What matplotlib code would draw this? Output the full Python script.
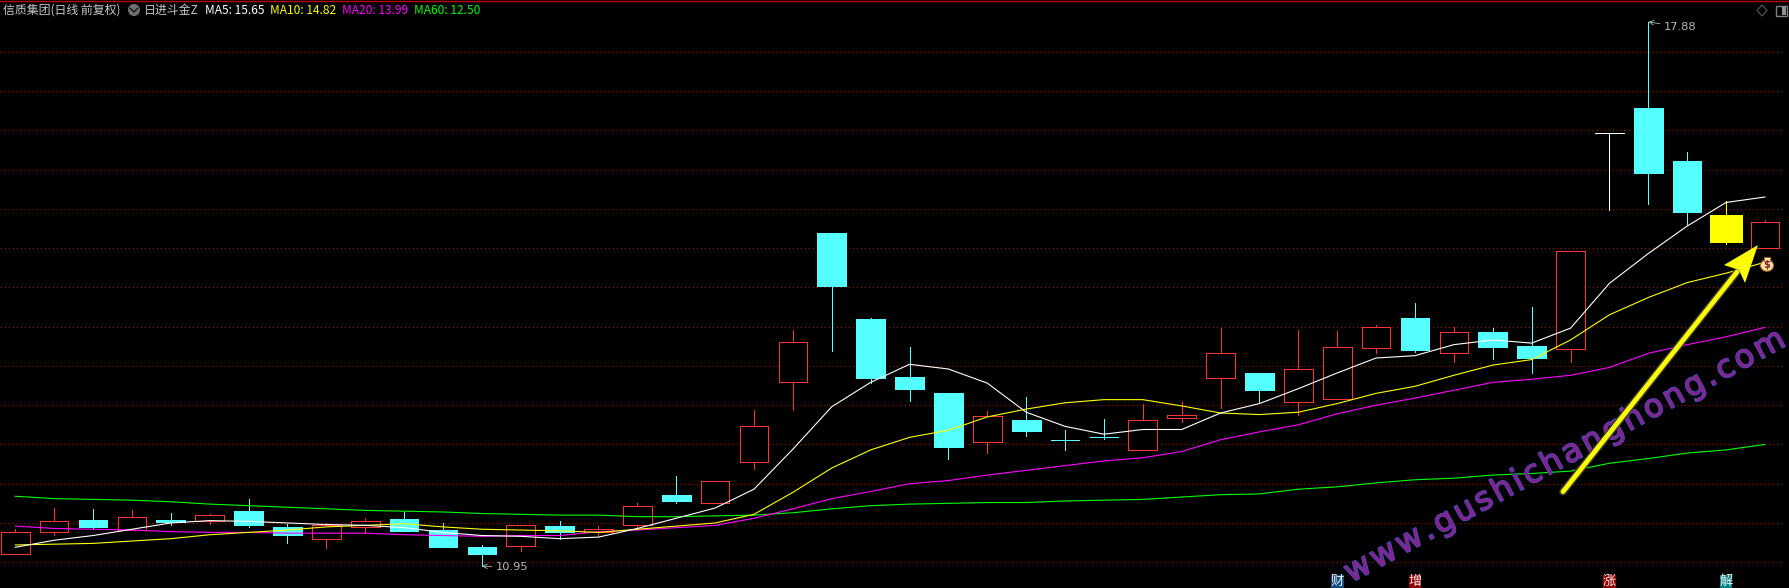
import matplotlib
matplotlib.use("Agg")
import matplotlib.pyplot as plt
import matplotlib.patheffects as pe
from matplotlib.font_manager import FontProperties
from matplotlib.patches import Polygon, Rectangle, Ellipse, Circle
from matplotlib.textpath import text_to_path
from matplotlib.transforms import Affine2D
import math

plt.rcParams["font.family"] = ["Noto Sans CJK SC", "DejaVu Sans"]

# =========================
# DATA
# =========================

opens = [11.10, 11.39, 11.54, 11.41, 11.54, 11.53, 11.65, 11.45, 11.29, 11.45,
         11.55, 11.41, 11.19, 11.21, 11.46, 11.39, 11.48, 11.86, 11.76, 12.27,
         13.30, 15.19, 14.10, 13.36, 13.16, 12.53, 12.81, 12.55, 12.60, 12.43,
         12.84, 13.34, 13.41, 13.04, 13.08, 13.73, 14.11, 13.67, 13.93, 13.75,
         13.72, 16.46, 16.78, 16.11, 15.42, 15.00]
highs = [11.42, 11.69, 11.68, 11.67, 11.63, 11.61, 11.81, 11.49, 11.50, 11.56,
         11.64, 11.50, 11.22, 11.47, 11.53, 11.46, 11.75, 12.10, 12.04, 12.94,
         13.96, 15.19, 14.11, 13.74, 13.16, 12.93, 13.10, 12.68, 12.82, 13.02,
         13.04, 13.98, 13.41, 13.96, 13.94, 14.02, 14.30, 14.00, 13.98, 14.25,
         14.96, 16.46, 17.88, 16.22, 15.60, 15.36]
lows = [11.10, 11.35, 11.42, 11.41, 11.47, 11.49, 11.45, 11.25, 11.18, 11.37,
        11.40, 11.19, 10.95, 11.14, 11.30, 11.33, 11.42, 11.76, 11.75, 12.19,
        12.94, 13.69, 13.28, 13.05, 12.31, 12.39, 12.61, 12.43, 12.57, 12.43,
        12.79, 12.96, 13.04, 12.87, 13.08, 13.66, 13.68, 13.55, 13.59, 13.41,
        13.55, 15.48, 15.56, 15.29, 15.05, 15.00]
closes = [11.39, 11.53, 11.45, 11.57, 11.51, 11.60, 11.47, 11.35, 11.47, 11.52,
          11.40, 11.19, 11.11, 11.47, 11.39, 11.42, 11.72, 11.78, 12.04, 12.74,
          13.80, 14.52, 13.35, 13.21, 12.47, 12.86, 12.67, 12.55, 12.60, 12.81,
          12.88, 13.66, 13.19, 13.46, 13.74, 14.00, 13.70, 13.93, 13.74, 13.60,
          14.96, 16.46, 15.96, 15.46, 15.08, 15.33]

ma5 = [11.19, 11.28, 11.34, 11.42, 11.50, 11.53, 11.52, 11.50, 11.48, 11.47,
       11.44, 11.38, 11.34, 11.33, 11.30, 11.32, 11.43, 11.56, 11.69, 11.93,
       12.44, 12.98, 13.29, 13.52, 13.46, 13.28, 12.91, 12.73, 12.63, 12.69,
       12.69, 12.90, 13.02, 13.21, 13.41, 13.60, 13.63, 13.77, 13.83, 13.79,
       13.98, 14.55, 14.93, 15.28, 15.58, 15.65]
ma10 = [11.22, 11.23, 11.24, 11.27, 11.30, 11.35, 11.38, 11.41, 11.45, 11.47,
        11.49, 11.45, 11.42, 11.41, 11.40, 11.38, 11.42, 11.46, 11.50, 11.61,
        11.89, 12.20, 12.43, 12.59, 12.68, 12.85, 12.95, 13.03, 13.07, 13.07,
        12.99, 12.90, 12.88, 12.91, 13.02, 13.15, 13.24, 13.38, 13.51, 13.58,
        13.83, 14.15, 14.37, 14.56, 14.68, 14.82]
ma20 = [11.46, 11.43, 11.42, 11.41, 11.39, 11.38, 11.38, 11.37, 11.37, 11.37,
        11.35, 11.34, 11.33, 11.34, 11.34, 11.39, 11.41, 11.44, 11.47, 11.56,
        11.68, 11.81, 11.90, 12.00, 12.04, 12.11, 12.17, 12.23, 12.29, 12.33,
        12.41, 12.56, 12.66, 12.75, 12.89, 13.00, 13.09, 13.19, 13.29, 13.33,
        13.38, 13.48, 13.66, 13.77, 13.87, 13.99]
ma60 = [11.84, 11.81, 11.80, 11.79, 11.77, 11.74, 11.72, 11.70, 11.68, 11.66,
        11.65, 11.64, 11.62, 11.61, 11.60, 11.60, 11.58, 11.58, 11.59, 11.60,
        11.63, 11.68, 11.72, 11.74, 11.75, 11.76, 11.76, 11.78, 11.79, 11.80,
        11.83, 11.86, 11.87, 11.93, 11.96, 12.01, 12.05, 12.07, 12.11, 12.13,
        12.16, 12.26, 12.32, 12.39, 12.43, 12.50]

grid_prices = [17.5, 17.0, 16.5, 16.0, 15.5, 15.0, 14.5, 14.0, 13.5, 13.0, 12.5, 12.0, 11.5, 11.0]

signal_days = [34, 36, 41, 44]
signal_labels = ["财", "增", "涨", "解"]
signal_colors = ["#124a80", "#960000", "#960000", "#008484"]

header_parts = [
    ("信质集团(日线 前复权)", 3, "#c8c8c8"),
    ("日进斗金Z", 144, "#c8c8c8"),
    ("MA5: 15.65", 205, "#ffffff"),
    ("MA10: 14.82", 270, "#ffff00"),
    ("MA20: 13.99", 342, "#ff00ff"),
    ("MA60: 12.50", 414, "#00ff00"),
]

watermark = "www.gushichanghong.com"

RED = "#ff3232"
CYAN = "#54ffff"

# =========================
# FIGURE
# =========================

fig = plt.figure(figsize=(17.90, 5.88), dpi=100, facecolor="black")
ax = fig.add_axes([0, 0, 1, 1], facecolor="black")
ax.set_xlim(-0.393, 45.645)
ax.set_ylim(10.672, 18.158)
ax.axis("off")

# pixel positions with the origin top left, for header and decorations
px = Affine2D().scale(1, -1).translate(0, 588)

for p in grid_prices:
    ax.plot([-0.36, 45.5], [p, p], color="#b80000", lw=0.72, ls=(0, (1, 3)),
            antialiased=False, zorder=1)

# =========================
# CANDLES
# =========================

for i in range(len(opens)):
    top = max(opens[i], closes[i])
    bottom = min(opens[i], closes[i])
    width = 0.737
    if i == 41:
        color, fill = "#ffffff", "#ffffff"
    elif i == 44:
        color, fill = "#ffff00", "#ffff00"
        width = 0.8
    elif closes[i] > opens[i]:
        color, fill = RED, "black"
    else:
        color, fill = CYAN, CYAN
    ax.plot([i, i], [lows[i], highs[i]], color=color, lw=0.55, antialiased=False, zorder=2)
    ax.add_patch(Rectangle((i - width / 2, bottom), width, top - bottom, facecolor=fill,
                           edgecolor=color, lw=0.55, antialiased=False, zorder=3))

days = list(range(len(ma5)))
ax.plot(days, ma60, color="#00ff00", lw=0.8, zorder=4)
ax.plot(days, ma20, color="#ff00ff", lw=0.8, zorder=4)
ax.plot(days, ma10, color="#ffff00", lw=0.8, zorder=4)
ax.plot(days, ma5, color="#ffffff", lw=0.8, zorder=4)

# =========================
# HIGH / LOW LABELS
# =========================

ax.annotate("17.88", xy=(42, 17.88), xytext=(1664, 27), textcoords=px, color="#b8b8b8",
            fontsize=8.2, va="center", family="DejaVu Sans",
            arrowprops=dict(arrowstyle="->", color="#b8b8b8", lw=0.6, shrinkA=1, shrinkB=0))
ax.annotate("10.95", xy=(12, 10.95), xytext=(496, 567), textcoords=px, color="#b8b8b8",
            fontsize=8.2, va="center", family="DejaVu Sans",
            arrowprops=dict(arrowstyle="->", color="#b8b8b8", lw=0.6, shrinkA=1, shrinkB=0))

# =========================
# HEADER
# =========================

ax.plot([0, 1790], [0.5, 0.5], color="#c00000", lw=1.0, transform=px, clip_on=False)
for label, x, color in header_parts:
    ax.text(x, 10, label, color=color, fontsize=8.6, va="center", ha="left", transform=px)

ax.add_patch(Circle((134, 10), 6, facecolor="#707070", edgecolor="none", transform=px))
ax.plot([130.5, 134, 137.5], [8.5, 12, 8.5], color="#202020", lw=1.2, transform=px)

ax.add_patch(Polygon([(1762, 5), (1767, 10.5), (1762, 16), (1757, 10.5)], closed=True, fill=False,
                     edgecolor="#5a5a5a", lw=0.8, transform=px))
ax.add_patch(Rectangle((1776, 5.5), 11, 10.5, facecolor="black", edgecolor="#808080", lw=1.0, transform=px))
ax.add_patch(Rectangle((1782, 6.5), 4, 8.5, facecolor="#909090", edgecolor="none", transform=px))

# =========================
# SIGNAL BOXES
# =========================

for day, label, color in zip(signal_days, signal_labels, signal_colors):
    ax.add_patch(Rectangle((day - 0.165, 10.672), 0.33, 0.165, facecolor=color, edgecolor="none", zorder=5))
    ax.text(day, 10.755, label, color="#f0f0f0", fontsize=9.5, ha="center", va="center", zorder=5.5)

# =========================
# WATERMARK, ARROW, BAG
# =========================

# letters are set one by one, the original has wider spacing than the font
wm_size = 23
wm_prop = FontProperties(family="DejaVu Sans", size=wm_size)
advances = [text_to_path.get_text_width_height_descent(c, wm_prop, False)[0] * 100 / 72 for c in watermark]
gap = (497 - sum(advances)) / (len(watermark) - 1)
angle = 28.6
dist = 0.0
for c, adv in zip(watermark, advances):
    ax.text(1351 + dist * math.cos(math.radians(angle)), 583 - dist * math.sin(math.radians(angle)),
            c, color="#8a2090", fontproperties=wm_prop, rotation=angle, rotation_mode="anchor",
            ha="left", va="baseline", transform=px,
            path_effects=[pe.withStroke(linewidth=1.2, foreground="#3c50b4")], zorder=6)
    dist += adv + gap

glow = [pe.withStroke(linewidth=5.5, foreground="#3a3a3a")]
ax.plot([1563, 1737], [491.7, 272], color="#ffff00", lw=3.4, solid_capstyle="round",
        transform=px, path_effects=glow, zorder=7)
ax.add_patch(Polygon([(1758, 245), (1724, 265), (1739, 270), (1745, 283)], closed=True,
                     facecolor="#ffff00", edgecolor="none", transform=px, zorder=7))

ax.add_patch(Ellipse((1767, 265.5), 13, 11.5, facecolor="#ffe2a0", edgecolor="#a86a20", lw=0.8,
                     transform=px, zorder=8))
ax.add_patch(Rectangle((1764, 256.5), 6, 4, facecolor="#ffe2a0", edgecolor="#a86a20", lw=0.6,
                       transform=px, zorder=8))
ax.text(1767, 265.5, "$", color="#7a1c30", fontsize=7, fontweight="bold", ha="center", va="center",
        transform=px, family="DejaVu Sans", zorder=9)

fig.savefig("out.png", dpi=100, facecolor="black")
